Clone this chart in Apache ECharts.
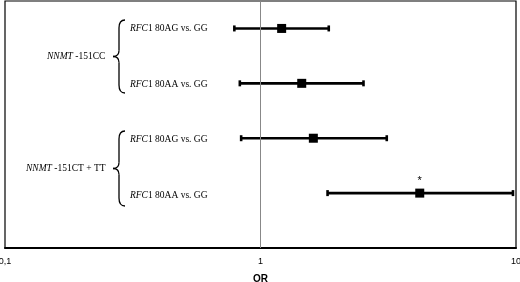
<!DOCTYPE html>
<html>
<head>
<meta charset="utf-8">
<script src="https://cdn.jsdelivr.net/npm/echarts@6/dist/echarts.min.js"></script>
<style>
  html, body { margin: 0; padding: 0; background: #fff; }
  #chart { width: 520px; height: 282px; }
</style>
</head>
<body>
<div id="chart"></div>
<script>
// rows from top to bottom
const comparisons = ['80AG vs. GG', '80AA vs. GG', '80AG vs. GG', '80AA vs. GG']
const groups = ['-151CC', '-151CT + TT']
const rowPos = [4, 3, 2, 1]
const orEst = [1.21, 1.45, 1.61, 4.2]
const ciLow = [0.79, 0.83, 0.84, 1.83]
const ciHigh = [1.85, 2.53, 3.12, 9.73]
const signif = [false, false, false, true]
const tickLabels = { 0.1: '0,1', 1: '1', 10: '10' }

const serif = 'Liberation Serif'
const chart = echarts.init(document.getElementById('chart'))

const textRich = {
  i: { fontFamily: serif, fontStyle: 'italic', fontSize: 9.5, color: '#000' },
  n: { fontFamily: serif, fontSize: 9.5, color: '#000' },
}

const rowTextY = [29, 85, 140, 196]
const labelTexts = comparisons.map((c, i) => ({
  type: 'text',
  left: 130,
  top: rowTextY[i] - 6,
  style: { text: '{i|RFC}{n|1 ' + c + '}', rich: textRich },
}))

const groupTexts = [
  { type: 'text', left: 47, top: 51, style: { text: '{i|NNMT}{n| ' + groups[0] + '}', rich: textRich } },
  { type: 'text', left: 26, top: 163, style: { text: '{i|NNMT}{n| ' + groups[1] + '}', rich: textRich } },
]

// curly brace pointing left
const brace = (top, bot) => {
  const mid = (top + bot) / 2
  const st = { stroke: '#000', lineWidth: 1.3, fill: null }
  return {
    type: 'group',
    children: [
      { type: 'bezierCurve', shape: { x1: 125, y1: top, cpx1: 119, cpy1: top, x2: 119, y2: top + 8 }, style: st },
      { type: 'line', shape: { x1: 119, y1: top + 8, x2: 119, y2: mid - 6 }, style: st },
      { type: 'bezierCurve', shape: { x1: 119, y1: mid - 6, cpx1: 119, cpy1: mid, x2: 113, y2: mid }, style: st },
      { type: 'bezierCurve', shape: { x1: 113, y1: mid, cpx1: 119, cpy1: mid, x2: 119, y2: mid + 6 }, style: st },
      { type: 'line', shape: { x1: 119, y1: mid + 6, x2: 119, y2: bot - 8 }, style: st },
      { type: 'bezierCurve', shape: { x1: 119, y1: bot - 8, cpx1: 119, cpy1: bot, x2: 125, y2: bot }, style: st },
    ],
  }
}

chart.setOption({
  animation: false,
  grid: {
    left: 5, right: 4, top: 1, bottom: 34,
    outerBoundsMode: 'none',
    show: true, borderColor: '#000', borderWidth: 1.2,
  },
  xAxis: {
    type: 'log',
    logBase: 10,
    min: 0.1,
    max: 10,
    name: 'OR',
    nameLocation: 'middle',
    nameGap: 26,
    nameTextStyle: { fontFamily: 'Liberation Sans', fontWeight: 'bold', fontSize: 10, color: '#000' },
    axisLine: { lineStyle: { color: '#000', width: 2 } },
    axisTick: { show: false },
    splitLine: { show: false },
    axisLabel: {
      fontFamily: 'Liberation Sans',
      fontSize: 9,
      color: '#000',
      margin: 9,
      hideOverlap: false,
      formatter: (v) => tickLabels[Math.round(v * 10) / 10] || '',
    },
  },
  yAxis: { type: 'value', min: 0, max: 4.5, show: false },
  graphic: [...labelTexts, ...groupTexts, brace(20, 93), brace(131, 206)],
  series: [
    {
      type: 'custom',
      data: rowPos.map((y, i) => [ciLow[i], ciHigh[i], y]),
      renderItem: (params, api) => {
        const a = api.coord([api.value(0), api.value(2)])
        const b = api.coord([api.value(1), api.value(2)])
        const st = { stroke: '#000', lineWidth: 2.6 }
        return {
          type: 'group',
          children: [
            { type: 'line', shape: { x1: a[0], y1: a[1], x2: b[0], y2: b[1] }, style: st },
            { type: 'line', shape: { x1: a[0], y1: a[1] - 3, x2: a[0], y2: a[1] + 3 }, style: st },
            { type: 'line', shape: { x1: b[0], y1: b[1] - 3, x2: b[0], y2: b[1] + 3 }, style: st },
          ],
        }
      },
      markLine: {
        silent: true,
        symbol: 'none',
        label: { show: false },
        lineStyle: { color: '#888', width: 1, type: 'solid' },
        data: [{ xAxis: 1 }],
      },
    },
    {
      type: 'scatter',
      symbol: 'rect',
      symbolSize: 9,
      itemStyle: { color: '#000', opacity: 1 },
      data: rowPos.map((y, i) => ({
        value: [orEst[i], y],
        label: {
          show: signif[i],
          formatter: '*',
          position: 'top',
          distance: 2,
          fontFamily: 'Liberation Sans',
          fontSize: 11,
          color: '#000',
        },
      })),
    },
  ],
})
</script>
</body>
</html>
